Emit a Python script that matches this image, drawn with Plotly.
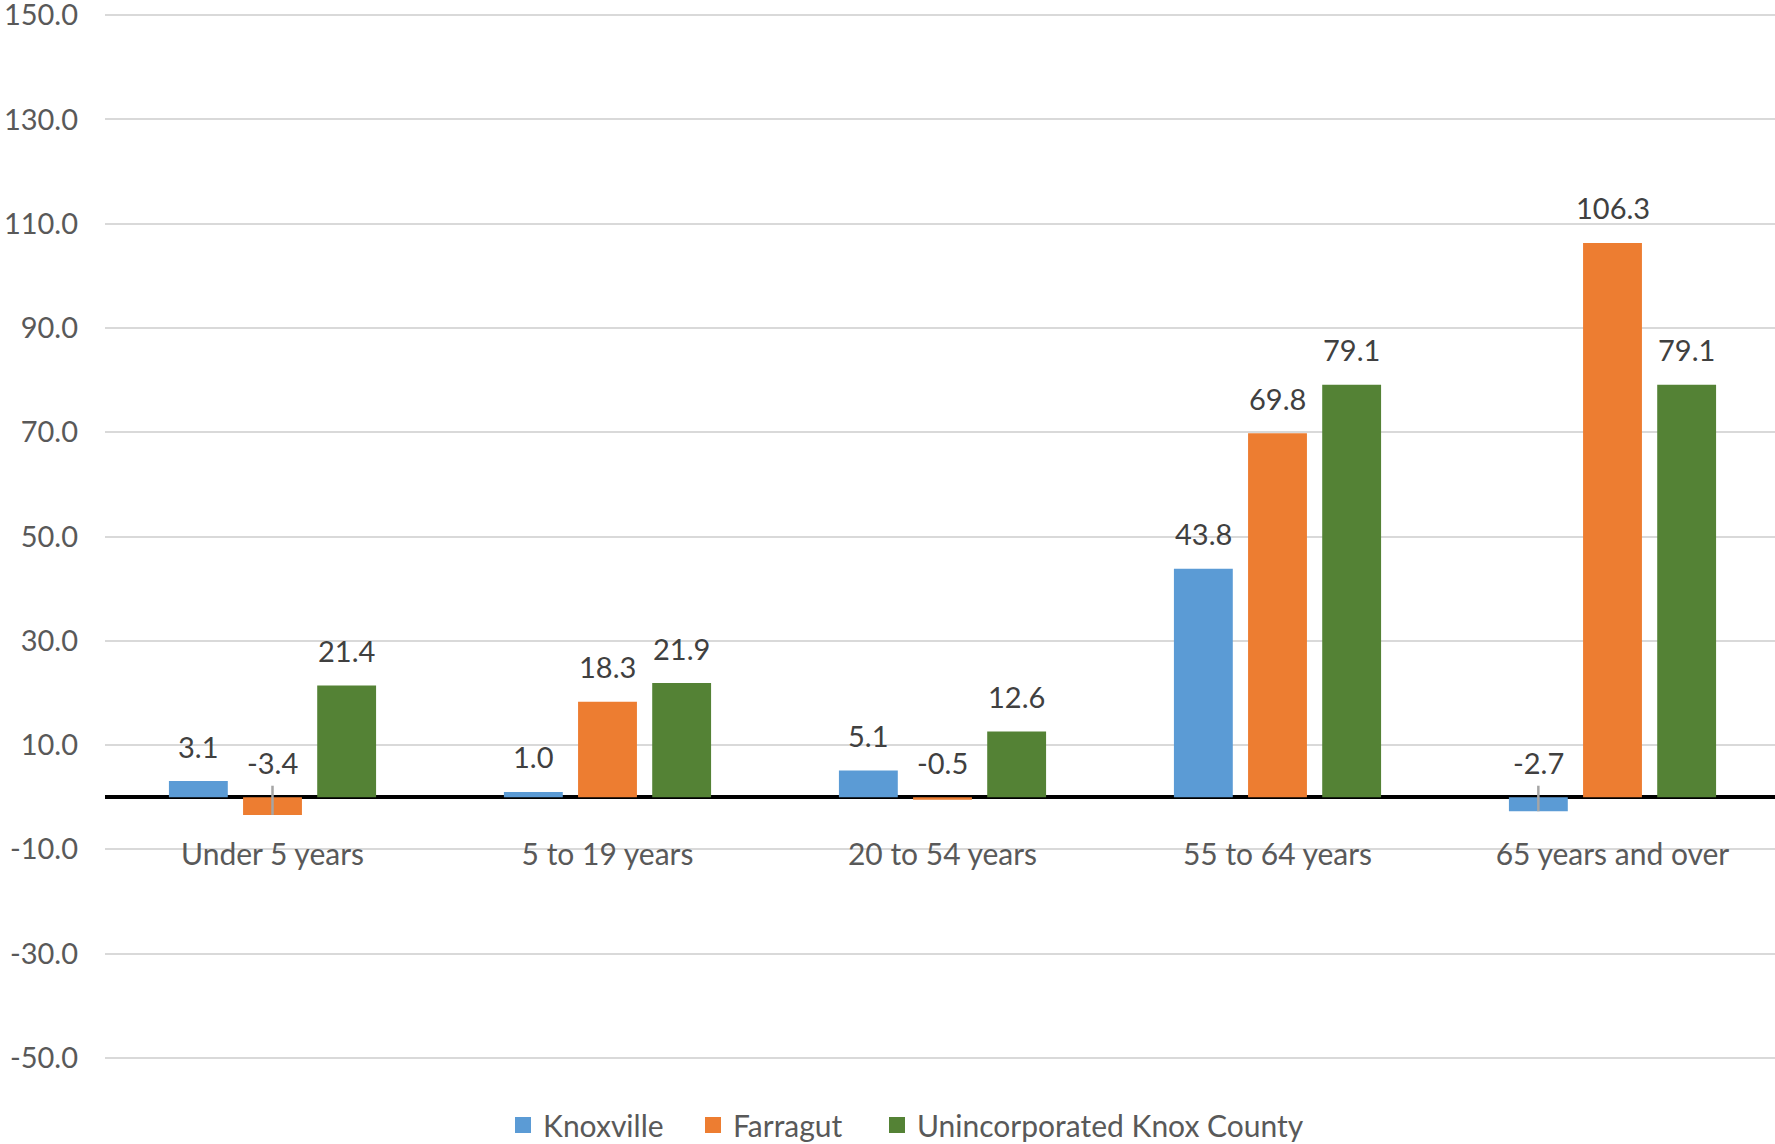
import plotly.graph_objects as go

categories = ["Under 5 years", "5 to 19 years", "20 to 54 years", "55 to 64 years", "65 years and over"]
knoxville = [3.1, 1.0, 5.1, 43.8, -2.7]
farragut = [-3.4, 18.3, -0.5, 69.8, 106.3]
unincorporated = [21.4, 21.9, 12.6, 79.1, 79.1]
series_names = ["Knoxville", "Farragut", "Unincorporated Knox County"]
colors = ["#5B9BD5", "#ED7D31", "#548235"]
y_ticks = [-50, -30, -10, 10, 30, 50, 70, 90, 110, 130, 150]

FONT = "Lato"
FS = 29
FS_TXT = 30
W, H = 1780, 1144  # plot area runs slightly past the 1775px window edge, as in the reference crop
BARGAP = 0.336
GROUPGAP = 0.206
LEADER_TOP = 2.2  # leader line top (value units) for labels of negative bars
legend_sym_centers_px = [523, 713, 897]  # legend marker positions (container px)
legend_ids = ["legend", "legend2", "legend3"]

series = [knoxville, farragut, unincorporated]
fig = go.Figure()
for k, (name, vals, col) in enumerate(zip(series_names, series, colors)):
    leader_plus = [(LEADER_TOP - v) if v < -1 else 0 for v in vals]
    fig.add_trace(go.Bar(
        name=name, x=categories, y=vals, marker=dict(color=col, line=dict(width=0)),
        error_y=dict(type="data", symmetric=False, array=leader_plus,
                     arrayminus=[0] * len(vals), width=0, thickness=2.5, color="#A5A5A5",
                     visible=any(p > 0 for p in leader_plus)),
        hoverinfo="skip", showlegend=False,
    ))
# legend proxies (square swatches)
for k, (name, col) in enumerate(zip(series_names, colors)):
    fig.add_trace(go.Scatter(
        x=[None], y=[None], mode="markers", name=name, legend=legend_ids[k],
        marker=dict(symbol="square", size=17, color=col), showlegend=True, hoverinfo="skip",
    ))

pitch = (1 - BARGAP) / len(series)
annotations = []
for k, vals in enumerate(series):
    for i, v in enumerate(vals):
        annotations.append(dict(
            x=i + (k - (len(series) - 1) / 2) * pitch, y=max(v, 0), xref="x", yref="y",
            text=f"{v:.1f}", showarrow=False, yanchor="middle", yshift=35,
            font=dict(family=FONT, size=FS, color="#404040"),
        ))

legend_style = dict(orientation="h", xref="container", yref="container",
                    xanchor="left", yanchor="middle", y=1 - 1125 / H,
                    font=dict(family=FONT, size=FS_TXT, color="#595959"), itemwidth=30,
                    bgcolor="rgba(0,0,0,0)", borderwidth=0)
legends = {}
for k, lid in enumerate(legend_ids):
    legends[lid] = dict(legend_style, x=(legend_sym_centers_px[k] - 20) / W)

fig.update_layout(
    width=W, height=H,
    margin=dict(l=105, r=0, t=12, b=83, autoexpand=False),
    paper_bgcolor="white", plot_bgcolor="white",
    barmode="group", bargap=BARGAP, bargroupgap=GROUPGAP,
    font=dict(family=FONT, size=FS, color="#595959"),
    showlegend=True,
    annotations=annotations,
    xaxis=dict(type="category", anchor="free", position=50.6 / 201.2, showgrid=False,
               showline=False, ticks="", ticklabelstandoff=37,
               tickfont=dict(family=FONT, size=FS_TXT, color="#595959")),
    yaxis=dict(range=[-50.6, 150.6], tickvals=y_ticks, ticktext=[f"{t:.1f}" for t in y_ticks],
               showgrid=True, gridcolor="#D9D9D9", gridwidth=2,
               zeroline=True, zerolinecolor="#000000", zerolinewidth=4,
               showline=False, ticks="", ticklabelstandoff=26, layer="above traces",
               ticklabeloverflow="allow",
               tickfont=dict(family=FONT, size=FS, color="#595959")),
    **legends,
)

fig.write_html("out.html", config={"displayModeBar": False},
               post_script="document.body.style.margin='0';document.body.style.overflow='hidden';")
